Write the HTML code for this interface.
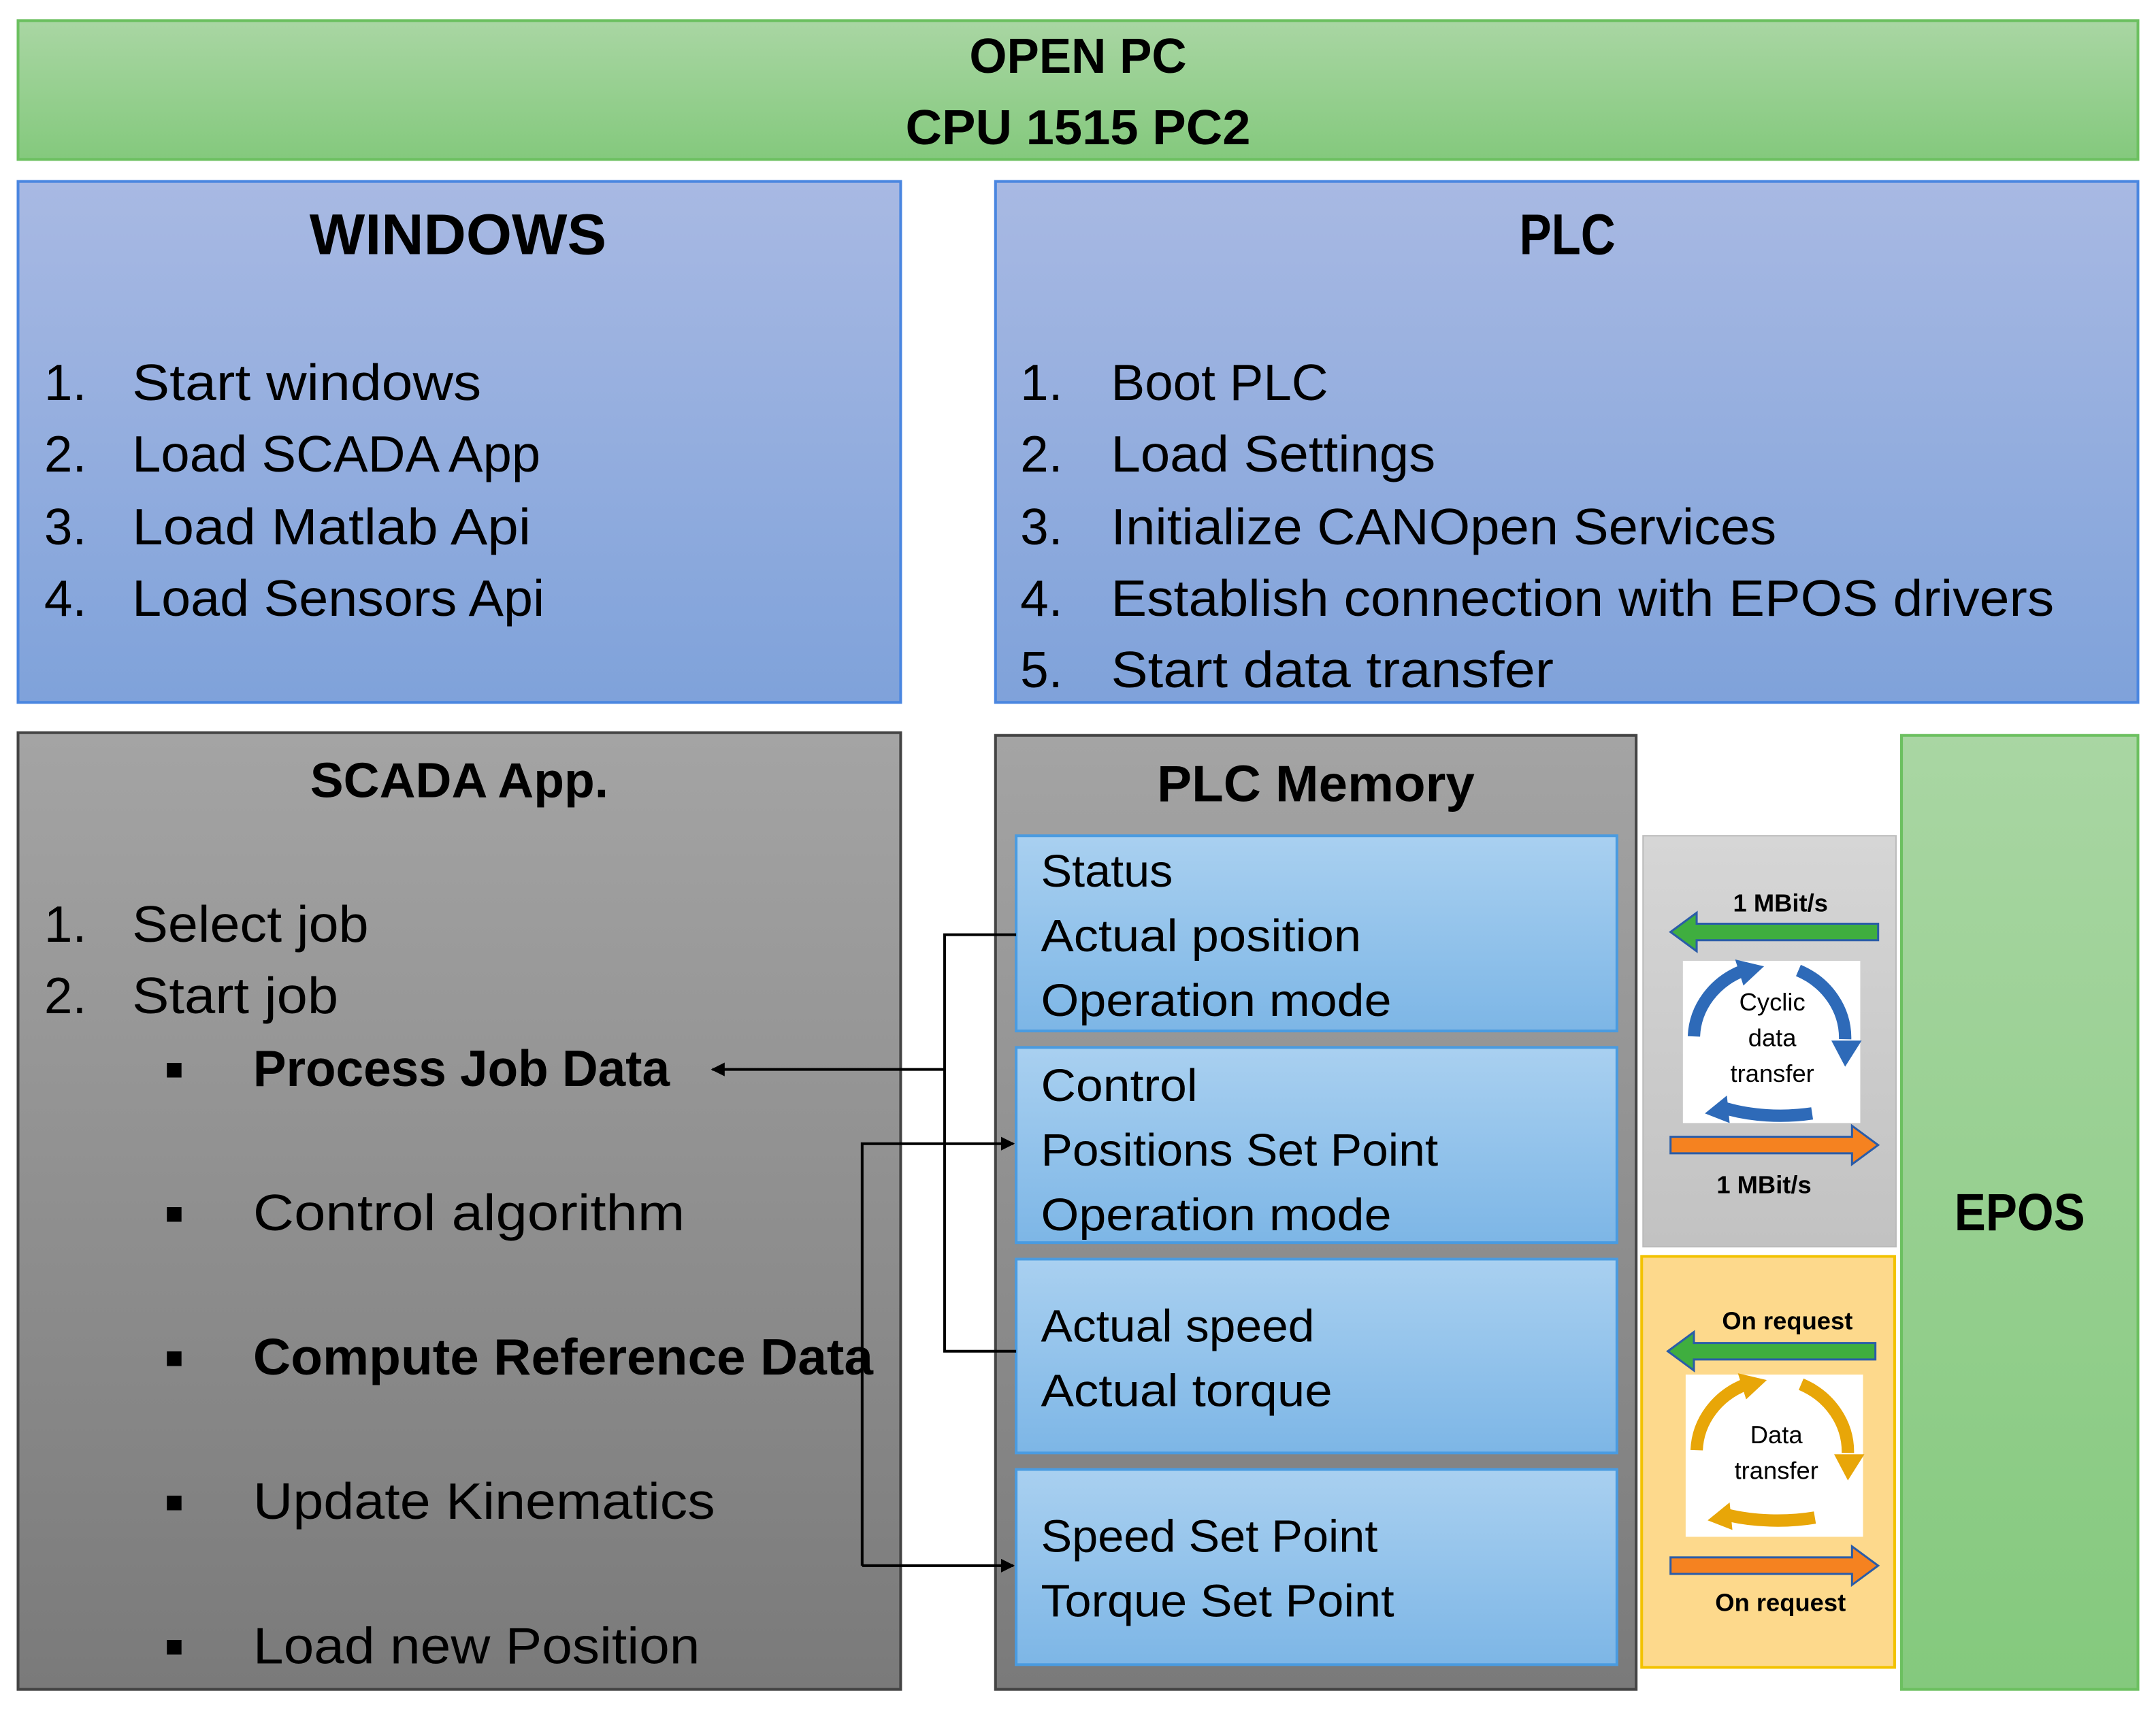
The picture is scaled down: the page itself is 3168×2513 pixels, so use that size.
<!DOCTYPE html>
<html><head><meta charset="utf-8"><style>html,body{margin:0;padding:0;background:#fff}svg{display:block}text{font-family:"Liberation Sans",sans-serif;fill:#000}</style></head>
<body>
<svg width="3168" height="2513" viewBox="0 0 1568 1244" xmlns="http://www.w3.org/2000/svg">
<defs>
<linearGradient id="gr" x1="0" y1="0" x2="0" y2="1"><stop offset="0" stop-color="#a9d6a3"/><stop offset="1" stop-color="#84c97d"/></linearGradient>
<linearGradient id="bl" x1="0" y1="0" x2="0" y2="1"><stop offset="0" stop-color="#a8b9e3"/><stop offset="1" stop-color="#7fa2da"/></linearGradient>
<linearGradient id="gy" x1="0" y1="0" x2="0" y2="1"><stop offset="0" stop-color="#a4a4a4"/><stop offset="1" stop-color="#7a7a7a"/></linearGradient>
<linearGradient id="lb" x1="0" y1="0" x2="0" y2="1"><stop offset="0" stop-color="#a9d0f0"/><stop offset="1" stop-color="#7db6e6"/></linearGradient>
<linearGradient id="lg" x1="0" y1="0" x2="0" y2="1"><stop offset="0" stop-color="#d6d6d6"/><stop offset="1" stop-color="#c2c2c2"/></linearGradient>
<marker id="ah" markerWidth="10" markerHeight="10" refX="9" refY="5" orient="auto" markerUnits="userSpaceOnUse"><path d="M0,0 L10,5 L0,10 Z" fill="#000"/></marker>
</defs>
<!-- top -->
<rect x="13" y="15" width="1542" height="101" fill="url(#gr)" stroke="#6cc060" stroke-width="2"/>
<text x="784" y="53" font-size="36" font-weight="bold" text-anchor="middle" textLength="158" lengthAdjust="spacingAndGlyphs">OPEN PC</text>
<text x="784" y="105" font-size="36" font-weight="bold" text-anchor="middle" textLength="251" lengthAdjust="spacingAndGlyphs">CPU 1515 PC2</text>
<!-- windows -->
<rect x="13" y="132" width="642" height="379" fill="url(#bl)" stroke="#4a86e0" stroke-width="2"/>
<text x="333" y="185" font-size="42" font-weight="bold" text-anchor="middle" textLength="216" lengthAdjust="spacingAndGlyphs">WINDOWS</text>
<g font-size="37">
<text x="32" y="291">1.</text><text x="96" y="291" textLength="254" lengthAdjust="spacingAndGlyphs">Start windows</text>
<text x="32" y="343">2.</text><text x="96" y="343" textLength="297" lengthAdjust="spacingAndGlyphs">Load SCADA App</text>
<text x="32" y="396">3.</text><text x="96" y="396" textLength="290" lengthAdjust="spacingAndGlyphs">Load Matlab Api</text>
<text x="32" y="448">4.</text><text x="96" y="448" textLength="300" lengthAdjust="spacingAndGlyphs">Load Sensors Api</text>
</g>
<!-- plc -->
<rect x="724" y="132" width="831" height="379" fill="url(#bl)" stroke="#4a86e0" stroke-width="2"/>
<text x="1140" y="185" font-size="42" font-weight="bold" text-anchor="middle" textLength="70" lengthAdjust="spacingAndGlyphs">PLC</text>
<g font-size="37">
<text x="742" y="291">1.</text><text x="808" y="291" textLength="158" lengthAdjust="spacingAndGlyphs">Boot PLC</text>
<text x="742" y="343">2.</text><text x="808" y="343" textLength="236" lengthAdjust="spacingAndGlyphs">Load Settings</text>
<text x="742" y="396">3.</text><text x="808" y="396" textLength="484" lengthAdjust="spacingAndGlyphs">Initialize CANOpen Services</text>
<text x="742" y="448">4.</text><text x="808" y="448" textLength="686" lengthAdjust="spacingAndGlyphs">Establish connection with EPOS drivers</text>
<text x="742" y="500">5.</text><text x="808" y="500" textLength="322" lengthAdjust="spacingAndGlyphs">Start data transfer</text>
</g>
<!-- scada -->
<rect x="13" y="533" width="642" height="696" fill="url(#gy)" stroke="#444" stroke-width="2"/>
<text x="334" y="580" font-size="36" font-weight="bold" text-anchor="middle" textLength="217" lengthAdjust="spacingAndGlyphs">SCADA App.</text>
<g font-size="37">
<text x="32" y="685">1.</text><text x="96" y="685" textLength="172" lengthAdjust="spacingAndGlyphs">Select job</text>
<text x="32" y="737">2.</text><text x="96" y="737" textLength="150" lengthAdjust="spacingAndGlyphs">Start job</text>
<g font-size="22"><text x="120" y="785">■</text><text x="120" y="890">■</text><text x="120" y="995">■</text><text x="120" y="1100">■</text><text x="120" y="1205">■</text></g>
<text x="184" y="790" font-weight="bold" textLength="303" lengthAdjust="spacingAndGlyphs">Process Job Data</text>
<text x="184" y="895" textLength="314" lengthAdjust="spacingAndGlyphs">Control algorithm</text>
<text x="184" y="1000" font-weight="bold" textLength="451" lengthAdjust="spacingAndGlyphs">Compute Reference Data</text>
<text x="184" y="1105" textLength="336" lengthAdjust="spacingAndGlyphs">Update Kinematics</text>
<text x="184" y="1210" textLength="325" lengthAdjust="spacingAndGlyphs">Load new Position</text>
</g>
<!-- plc memory -->
<rect x="724" y="535" width="466" height="694" fill="url(#gy)" stroke="#444" stroke-width="2"/>
<text x="957" y="583" font-size="37" font-weight="bold" text-anchor="middle" textLength="231" lengthAdjust="spacingAndGlyphs">PLC Memory</text>
<g stroke="#4a9be0" stroke-width="2" fill="url(#lb)">
<rect x="739" y="608" width="437" height="142"/>
<rect x="739" y="762" width="437" height="142"/>
<rect x="739" y="916" width="437" height="141"/>
<rect x="739" y="1069" width="437" height="142"/>
</g>
<g font-size="33">
<text x="757" y="645" textLength="96" lengthAdjust="spacingAndGlyphs">Status</text>
<text x="757" y="692" textLength="233" lengthAdjust="spacingAndGlyphs">Actual position</text>
<text x="757" y="739" textLength="255" lengthAdjust="spacingAndGlyphs">Operation mode</text>
<text x="757" y="801" textLength="114" lengthAdjust="spacingAndGlyphs">Control</text>
<text x="757" y="848" textLength="289" lengthAdjust="spacingAndGlyphs">Positions Set Point</text>
<text x="757" y="895" textLength="255" lengthAdjust="spacingAndGlyphs">Operation mode</text>
<text x="757" y="976" textLength="199" lengthAdjust="spacingAndGlyphs">Actual speed</text>
<text x="757" y="1023" textLength="212" lengthAdjust="spacingAndGlyphs">Actual torque</text>
<text x="757" y="1129" textLength="245" lengthAdjust="spacingAndGlyphs">Speed Set Point</text>
<text x="757" y="1176" textLength="257" lengthAdjust="spacingAndGlyphs">Torque Set Point</text>
</g>
<!-- connectors -->
<g stroke="#000" stroke-width="2" fill="none">
<polyline points="739,680 687,680 687,983 739,983"/>
<line x1="687" y1="778" x2="518" y2="778" marker-end="url(#ah)"/>
<polyline points="627,1139 627,832 737,832" marker-end="url(#ah)"/>
<line x1="627" y1="1139" x2="737" y2="1139" marker-end="url(#ah)"/>
</g>
<!-- cyclic panel -->
<rect x="1195" y="608" width="184" height="299" fill="url(#lg)" stroke="#bbb" stroke-width="1"/>
<text x="1295" y="663" font-size="18" font-weight="bold" text-anchor="middle">1 MBit/s</text>
<path d="M1366,672 L1366,684 L1234,684 L1234,692 L1215,678 L1234,664 L1234,672 Z" fill="#3fae3f" stroke="#2a5ca8" stroke-width="1.5"/>
<rect x="1224" y="699" width="129" height="118" fill="#fff"/>
<g fill="none" stroke="#2e6ab8" stroke-width="9">
<path d="M1232,754 A58,54 0 0 1 1268,706"/>
<path d="M1308,706 A58,54 0 0 1 1342,756"/>
<path d="M1318,810 A70,30 0 0 1 1254,806"/>
</g>
<g fill="#2e6ab8">
<path d="M1262,698 L1283,703 L1268,717 Z"/>
<path d="M1332,757 L1354,757 L1342,776 Z"/>
<path d="M1256,797 L1240,810 L1258,817 Z"/>
</g>
<text x="1289" y="735" font-size="18" text-anchor="middle">Cyclic</text>
<text x="1289" y="761" font-size="18" text-anchor="middle">data</text>
<text x="1289" y="787" font-size="18" text-anchor="middle">transfer</text>
<path d="M1215,827 L1347,827 L1347,819 L1366,833 L1347,847 L1347,839 L1215,839 Z" fill="#f58220" stroke="#2a5ca8" stroke-width="1.5"/>
<text x="1283" y="868" font-size="18" font-weight="bold" text-anchor="middle">1 MBit/s</text>
<!-- on request panel -->
<rect x="1194" y="914" width="184" height="299" fill="#fdd98c" stroke="#f2c200" stroke-width="2"/>
<text x="1300" y="967" font-size="18" font-weight="bold" text-anchor="middle">On request</text>
<path d="M1364,977 L1364,989 L1232,989 L1232,997 L1213,983 L1232,969 L1232,977 Z" fill="#3fae3f" stroke="#2a5ca8" stroke-width="1.5"/>
<rect x="1226" y="1000" width="129" height="118" fill="#fff"/>
<g fill="none" stroke="#e8a608" stroke-width="9">
<path d="M1234,1055 A58,54 0 0 1 1270,1007"/>
<path d="M1310,1007 A58,54 0 0 1 1344,1057"/>
<path d="M1320,1104 A70,28 0 0 1 1256,1102"/>
</g>
<g fill="#e8a608">
<path d="M1264,999 L1285,1004 L1270,1018 Z"/>
<path d="M1334,1058 L1356,1058 L1344,1077 Z"/>
<path d="M1258,1093 L1242,1106 L1260,1113 Z"/>
</g>
<text x="1292" y="1050" font-size="18" text-anchor="middle">Data</text>
<text x="1292" y="1076" font-size="18" text-anchor="middle">transfer</text>
<path d="M1215,1133 L1347,1133 L1347,1125 L1366,1139 L1347,1153 L1347,1145 L1215,1145 Z" fill="#f58220" stroke="#2a5ca8" stroke-width="1.5"/>
<text x="1295" y="1172" font-size="18" font-weight="bold" text-anchor="middle">On request</text>
<!-- epos -->
<rect x="1383" y="535" width="172" height="694" fill="url(#gr)" stroke="#6cc060" stroke-width="2"/>
<text x="1469" y="895" font-size="38" font-weight="bold" text-anchor="middle" textLength="95" lengthAdjust="spacingAndGlyphs">EPOS</text>
</svg>
</body></html>
